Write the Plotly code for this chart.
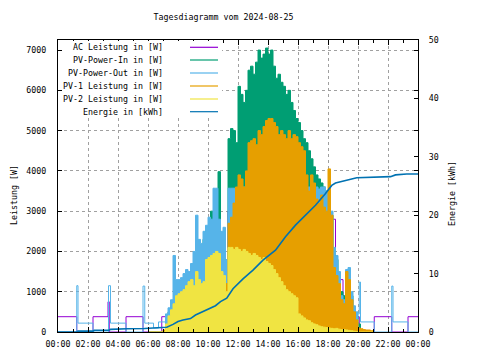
import pandas as pd
import plotly.graph_objects as go

DATE = "2024-08-25"
TITLE = "Tagesdiagramm vom 2024-08-25"
SERIES_NAMES = ["AC Leistung in [W]", "PV-Power-In in [W]", "PV-Power-Out in [W]",
                "PV-1 Leistung in [W]", "PV-2 Leistung in [W]", "Energie in [kWh]"]
X_TICK_TIMES = ["00:00", "02:00", "04:00", "06:00", "08:00", "10:00", "12:00",
                "14:00", "16:00", "18:00", "20:00", "22:00", "24:00"]
X_TICK_LABELS = ["00:00", "02:00", "04:00", "06:00", "08:00", "10:00", "12:00",
                 "14:00", "16:00", "18:00", "20:00", "22:00", "00:00"]
X_MINOR_TIMES = ["01:00", "03:00", "05:00", "07:00", "09:00", "11:00", "13:00",
                 "15:00", "17:00", "19:00", "21:00", "23:00"]
Y_TICKS = [0, 1000, 2000, 3000, 4000, 5000, 6000, 7000]
Y2_TICKS = [0, 10, 20, 30, 40, 50]

# daytime samples, every 10 minutes from 06:00 to 21:00 (W)
DAY_START = "06:00"
DAY_STEP_MIN = 10
PV_IN = [0, 0, 0, 0, 0, 0, 0,
         300, 500, 650, 800, 900,
         1000, 1100, 1200, 1300, 1350, 1600,
         1400, 1700, 1900, 1800, 2300, 2500,
         2400, 3000, 2900, 2700, 3980, 2300,
         2400, 1500, 4800, 5050, 5000, 4700,
         6100, 5900, 5700, 6000, 6500, 6600,
         6400, 6700, 7000, 6800, 6900, 7050,
         6900, 7000, 6600, 6300, 6400, 6200,
         6100, 5900, 6000, 5700, 5500, 5300,
         5200, 5000, 4800, 4700, 4500, 4300,
         4100, 3900, 3800, 3700, 3600, 3500,
         3300, 2900, 2000, 1800, 1400, 1000,
         900, 1300, 1400, 900, 600, 400,
         200, 0, 0, 0, 0, 0, 0]
PV_OUT_DAY = [0, 0, 0, 0, 0, 0, 0,
              450, 600, 800, 1900, 1300,
              1300, 1350, 1450, 1550, 1500, 1700,
              2000, 2900, 2300, 2200, 2500, 2650,
              2850, 2800, 3570, 3570, 2800, 2500,
              2600, 1800, 3570, 3570, 3570, 3570,
              3600, 3600, 3600, 3600, 3600, 3600,
              3600, 3600, 3600, 3600, 3600, 3600,
              3600, 3600, 3600, 3600, 3600, 3600,
              3600, 3600, 3600, 3600, 3600, 3600,
              3600, 3600, 3600, 3600, 3600, 3600,
              3600, 3600, 3550, 3600, 3600, 3500,
              3300, 3000, 2100, 1900, 1500, 900,
              800, 1550, 1600, 1000, 650, 500,
              0, 0, 0, 0, 0, 0, 0]
PV_1 = [0, 0, 0, 0, 0, 0,
        50, 150, 200, 250, 300, 350,
        300, 400, 450, 500, 600, 550,
        500, 650, 700, 650, 750, 850,
        800, 900, 1000, 1100, 1000, 900,
        1100, 1200, 2700, 2850, 3200, 3600,
        3900, 3800, 3600, 4000, 4700, 4750,
        4800, 4650, 5000, 4900, 5100, 5250,
        5300, 5300, 5200, 5100, 4900, 5000,
        4900, 4800, 5000, 4800, 4900, 4850,
        4700, 4600, 4500, 3900, 3500, 3900,
        3700, 3300, 3200, 3400, 3100, 3000,
        4050, 2900, 1600, 1400, 1200, 800,
        700, 1500, 1300, 800, 500, 300,
        100, 80, 60, 50, 50, 30, 0]
PV_2 = [0, 0, 0, 0, 0, 0, 0,
        200, 400, 550, 700, 900,
        950, 1000, 1050, 1150, 1250, 1300,
        1150, 1500, 1300, 1200, 1250, 1800,
        1850, 1900, 1950, 2000, 1950, 1500,
        1400, 1000, 2100, 2100, 2050, 2100,
        2050, 2000, 2050, 2000, 1950, 1900,
        1950, 1900, 1850, 1800, 1850, 1750,
        1700, 1650, 1550, 1450, 1350, 1250,
        1150, 1050, 1000, 950, 900, 850,
        450, 400, 350, 300, 280, 230,
        200, 180, 150, 130, 120, 110,
        100, 90, 80, 90, 70, 60,
        60, 50, 40, 30, 20, 10,
        0, 0, 0, 0, 0, 0, 0]

# step samples (time, W)
AC_T = ["00:00", "01:15", "02:20", "03:20", "03:25", "04:32", "05:40", "06:55", "07:12",
        "08:00", "09:00", "10:00", "11:00", "11:20", "12:00", "14:40", "15:20", "17:50",
        "18:30", "19:00", "19:40", "20:05", "21:05", "22:15", "23:20", "24:00"]
AC_W = [380, 0, 380, 750, 0, 380, 0, 380, 200,
        900, 1300, 1800, 1500, 3000, 3500, 3650, 3500, 2800,
        1300, 600, 380, 0, 380, 0, 380, 380]
PV_OUT_AM_T = ["00:00", "01:15", "01:20", "02:20", "03:22", "03:30", "04:32", "05:40",
               "05:47", "06:22", "06:42", "07:10"]
PV_OUT_AM_W = [0, 1150, 220, 0, 1150, 220, 0, 1140, 220, 100, 250, 350]
PV_OUT_PM_T = ["20:00", "20:05", "20:10", "21:05", "22:15", "22:20", "23:20", "24:00"]
PV_OUT_PM_W = [450, 1240, 250, 0, 1140, 250, 0, 0]

ENERGY_T = ["00:00", "01:15", "01:20", "02:20", "02:25", "03:25", "03:30", "04:30", "04:35",
            "05:45", "06:50", "07:15", "07:40", "08:00", "08:20", "08:50", "09:10", "09:40",
            "10:10", "10:30", "10:50", "11:15", "11:40", "12:20", "13:00", "13:40", "14:30",
            "15:10", "15:50", "16:30", "17:10", "17:50", "18:15", "18:30", "18:50", "19:30",
            "19:55", "22:10", "22:30", "23:15", "24:00"]
ENERGY_KWH = [0, 0, 0.15, 0.15, 0.3, 0.3, 0.45, 0.45, 0.55,
              0.6, 0.7, 0.8, 1.3, 1.8, 2.05, 2.3, 2.9, 3.5,
              4.1, 4.5, 5.2, 5.8, 7.4, 9.1, 10.6, 12.3, 14.0,
              16.3, 18.3, 20.0, 21.7, 23.7, 25.1, 25.5, 25.7, 26.1,
              26.4, 26.6, 26.9, 27.05, 27.05]

COLORS = ["#9400d3", "#009e73", "#56b4e9", "#e69f00", "#f0e442", "#0072b2"]
FONT = "DejaVu Sans Mono"
FS = 8.3
PAGE_OFF = 8  # default body margin of the html page


def ts(hhmm):
    h, m = map(int, hhmm.split(":"))
    return pd.Timestamp(DATE) + pd.Timedelta(hours=h, minutes=m)


day_start = ts(DAY_START)
day_t = [day_start + pd.Timedelta(minutes=DAY_STEP_MIN * i) for i in range(len(PV_IN))]

fig = go.Figure()
fig.add_trace(go.Scatter(x=[ts(t) for t in AC_T], y=AC_W, mode="lines", line_shape="hv",
                         line=dict(color=COLORS[0], width=1), name=SERIES_NAMES[0]))
fig.add_trace(go.Scatter(x=day_t, y=PV_IN, mode="lines", line_shape="hv", fill="tozeroy",
                         fillcolor=COLORS[1], line=dict(color=COLORS[1], width=1),
                         name=SERIES_NAMES[1]))
out_x = [ts(t) for t in PV_OUT_AM_T] + [None] + [ts(t) for t in PV_OUT_PM_T]
out_y = PV_OUT_AM_W + [None] + PV_OUT_PM_W
fig.add_trace(go.Scatter(x=out_x, y=out_y, mode="lines", line_shape="hv",
                         line=dict(color=COLORS[2], width=1), name=SERIES_NAMES[2]))
fig.add_trace(go.Scatter(x=day_t, y=PV_OUT_DAY, mode="lines", line_shape="hv", fill="tozeroy",
                         fillcolor=COLORS[2], line=dict(color=COLORS[2], width=1),
                         name=SERIES_NAMES[2]))
fig.add_trace(go.Scatter(x=day_t, y=PV_1, mode="lines", line_shape="hv", fill="tozeroy",
                         fillcolor=COLORS[3], line=dict(color=COLORS[3], width=1),
                         name=SERIES_NAMES[3]))
fig.add_trace(go.Scatter(x=day_t, y=PV_2, mode="lines", line_shape="hv", fill="tozeroy",
                         fillcolor=COLORS[4], line=dict(color=COLORS[4], width=1),
                         name=SERIES_NAMES[4]))
fig.add_trace(go.Scatter(x=[ts(t) for t in ENERGY_T], y=ENERGY_KWH, mode="lines",
                         line=dict(color=COLORS[5], width=1.6), yaxis="y2",
                         name=SERIES_NAMES[5]))

grid = dict(showgrid=True, gridcolor="#a0a0a0", griddash="3px,3px", gridwidth=1)
L, T, PW, PH = 58 - PAGE_OFF, 40 - PAGE_OFF, 360, 292
fig.update_layout(
    width=480, height=360,
    margin=dict(l=L, r=480 - L - PW, t=T, b=360 - T - PH, pad=0),
    paper_bgcolor="white", plot_bgcolor="white",
    showlegend=False,
    font=dict(family=FONT, size=FS, color="black"),
    title=dict(text=TITLE, x=(223.5 - PAGE_OFF) / 480, xanchor="center", xref="container",
               y=1 - (17 - PAGE_OFF) / 360, yanchor="middle", yref="container",
               font=dict(family=FONT, size=FS, color="black")),
    xaxis=dict(type="date", range=[ts("00:00"), ts("24:00")],
               tickmode="array", tickvals=[ts(t) for t in X_TICK_TIMES], ticktext=X_TICK_LABELS,
               ticks="inside", ticklen=5, tickcolor="black", showline=True, linecolor="black",
               linewidth=1, mirror="ticks", zeroline=False, ticklabelstandoff=4,
               minor=dict(tickmode="array", tickvals=[ts(t) for t in X_MINOR_TIMES],
                          ticks="inside", ticklen=3, tickcolor="black", showgrid=False),
               tickfont=dict(family=FONT, size=FS), **grid),
    yaxis=dict(range=[0, 7250], tickmode="array", tickvals=Y_TICKS,
               ticks="inside", ticklen=4, tickcolor="black", showline=True, linecolor="black",
               linewidth=1, mirror="ticks", zeroline=False, ticklabelstandoff=9,
               tickfont=dict(family=FONT, size=FS), **grid),
    yaxis2=dict(range=[0, 50], overlaying="y", side="right", tickmode="array",
                tickvals=Y2_TICKS, ticks="inside", ticklen=4, tickcolor="black",
                showline=True, linecolor="black", linewidth=1, showgrid=False,
                zeroline=False, ticklabelstandoff=8, tickfont=dict(family=FONT, size=FS)),
)

fig.add_annotation(text="Leistung [W]", xref="paper", yref="paper", x=(14 - 58) / PW,
                   y=(332 - 195) / PH, textangle=-90, showarrow=False, borderpad=0,
                   xanchor="center", yanchor="middle", font=dict(family=FONT, size=FS))
fig.add_annotation(text="Energie [kWh]", xref="paper", yref="paper", x=(452 - 58) / PW,
                   y=(332 - 194) / PH, textangle=-90, showarrow=False, borderpad=0,
                   xanchor="center", yanchor="middle", font=dict(family=FONT, size=FS))

fig.add_shape(type="rect", xref="paper", yref="paper", x0=(62.5 - 58) / PW, x1=(222 - 58) / PW,
              y0=(332 - 117) / PH, y1=(332 - 41) / PH, fillcolor="white",
              line=dict(width=0), layer="above")
row_y = [47.3, 60.0, 73.0, 86.0, 99.0, 111.7]
for name, color, py in zip(SERIES_NAMES, COLORS, row_y):
    yy = (332 - py) / PH
    fig.add_annotation(text=name, xref="paper", yref="paper", x=(165 - 58) / PW, y=yy,
                       xanchor="right", yanchor="middle", showarrow=False,
                       font=dict(family=FONT, size=FS, color="black"))
    fig.add_shape(type="line", xref="paper", yref="paper", x0=(190 - 58) / PW,
                  x1=(218 - 58) / PW, y0=yy, y1=yy, line=dict(color=color, width=1.2),
                  layer="above")

fig.write_html("out.html")
